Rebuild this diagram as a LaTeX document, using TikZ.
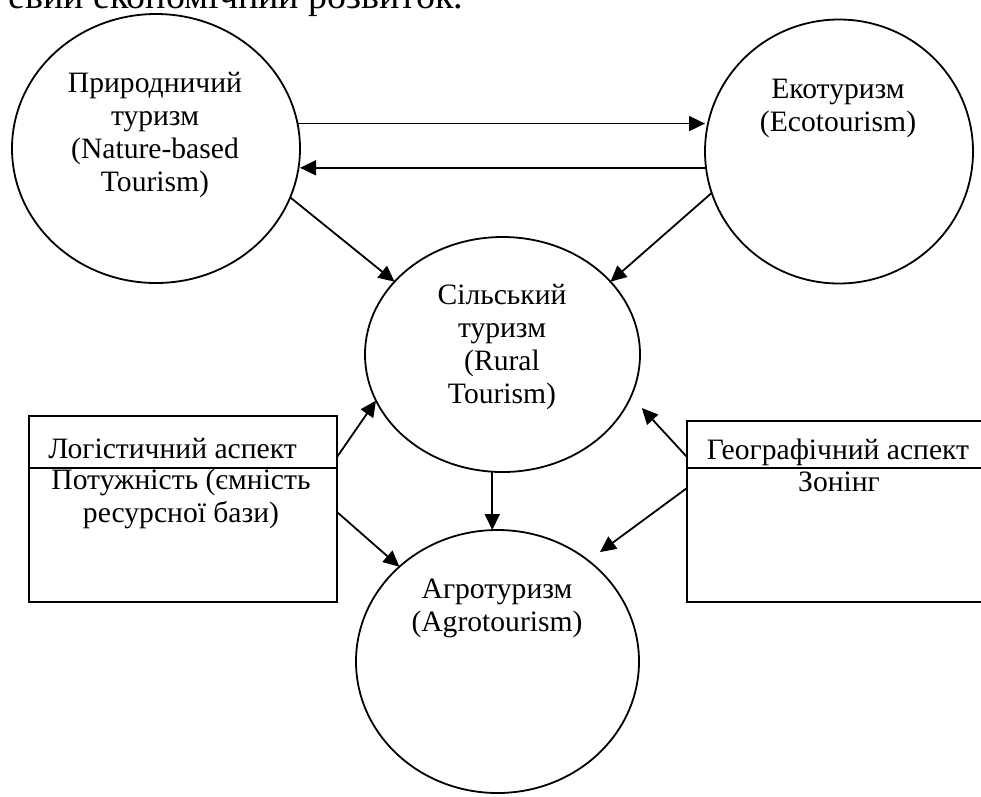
\documentclass[tikz,border=0pt]{standalone}
\usepackage{fontspec}
\setmainfont{Liberation Serif}
\usetikzlibrary{arrows.meta,shapes.geometric}
\begin{document}
\begin{tikzpicture}[x=1pt,y=-1pt,
  every node/.style={inner sep=0pt, outer sep=0pt},
  oval/.style={draw, ellipse, line width=1.8pt, inner sep=0pt},
  box/.style={draw, rectangle, line width=1.8pt},
  lbl/.style={font=\fontsize{29.6}{33}\selectfont, align=center},
  arr/.style={line width=1.8pt, -{Triangle[length=16pt,width=15pt]}},
]
\useasboundingbox (0,0) rectangle (981,796);
\clip (0,0) rectangle (981,796);

% top cut-off line of body text
\node[font=\fontsize{38}{44}\selectfont, anchor=base east] (toptext) at (463,8) {евий економічний розвиток.};

% ellipses
\node[oval, minimum width=288pt, minimum height=269pt] (nat) at (156,148.5) {};
\node[oval, minimum width=268pt, minimum height=264pt] (eco) at (839,151.5) {};
\node[oval, minimum width=275pt, minimum height=235pt] (rur) at (502.5,354.5) {};
\node[oval, minimum width=283pt, minimum height=263pt] (agr) at (497.5,661.5) {};

% boxes
\node[box, minimum width=308pt, minimum height=186pt] (lb) at (183,509) {};
\node[box, minimum width=303pt, minimum height=181pt] (rb) at (838.5,511.5) {};
\draw[line width=1.8pt] ([yshift=-52pt]lb.north west) -- ([yshift=-52pt]lb.north east);
\draw[line width=1.8pt] ([yshift=-47pt]rb.north west) -- ([yshift=-47pt]rb.north east);

% texts
\node[lbl, anchor=north] (natT) at (155,72.5) {Природничий\\туризм\\(Nature-based\\Tourism)};
\node[lbl, anchor=north] (ecoT) at (838,79.5) {Екотуризм\\(Ecotourism)};
\node[lbl, anchor=north] (rurT) at (502,284.5) {Сільський\\туризм\\(Rural\\Tourism)};
\node[lbl, anchor=north] (agrT) at (497,578.5) {Агротуризм\\(Agrotourism)};
\node[lbl, anchor=base] (lbT1) at (172.5,458) {Логістичний аспект};
\node[lbl, anchor=north] (lbT2) at (181,468.5) {Потужність (ємність\\ресурсної бази)};
\node[lbl, anchor=base] (rbT1) at (838,459) {Географічний аспект};
\node[lbl, anchor=base] (rbT2) at (839,491) {Зонінг};

% connectors
\draw[arr] (nat.10) -- (eco.west |- nat.10);
\draw[arr] (eco.187) -- (nat.east |- eco.187);
\draw[arr] (nat.-20) -- (rur.146);
\draw[arr] (eco.198) -- (rur.34);
\draw[arr] ([yshift=-41pt]lb.north east) -- (rur.200);
\draw[arr] ([yshift=-96pt]lb.north east) -- (agr.136);
\draw[arr] (rur.265) -- (rur.265 |- agr.north);
\draw[arr, shorten >=16pt] ([yshift=-36pt]rb.north west) -- (rur.-18);
\draw[arr, shorten >=14.5pt] ([yshift=-67pt]rb.north west) -- (agr.48);
\end{tikzpicture}
\end{document}
